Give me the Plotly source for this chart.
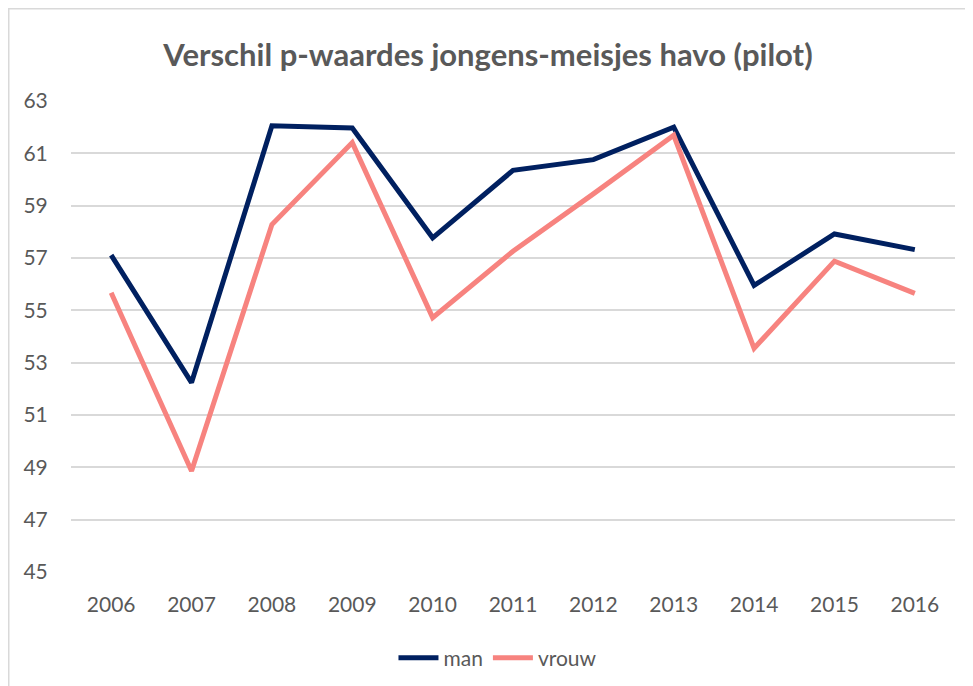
import plotly.graph_objects as go

years = ["2006", "2007", "2008", "2009", "2010", "2011", "2012", "2013", "2014", "2015", "2016"]
man = [57.11, 52.24, 62.05, 61.97, 57.77, 60.35, 60.76, 62.0, 55.95, 57.92, 57.32]
vrouw = [55.67, 48.86, 58.28, 61.41, 54.72, 57.26, 59.45, 61.69, 53.55, 56.88, 55.65]
y_ticks = [45, 47, 49, 51, 53, 55, 57, 59, 61, 63]

FONT = "Lato, 'Open Sans', sans-serif"
GREY = "#595959"

fig = go.Figure()
fig.add_trace(go.Scatter(x=years, y=man, mode="lines", name="man",
                         line=dict(color="#002060", width=5)))
fig.add_trace(go.Scatter(x=years, y=vrouw, mode="lines", name="vrouw",
                         line=dict(color="#F7837F", width=5)))

fig.update_layout(
    width=973, height=686,
    paper_bgcolor="white", plot_bgcolor="white",
    margin=dict(l=63, r=26, t=93, b=122, autoexpand=False),
    font=dict(family=FONT, color=GREY, size=21),
    title=dict(text="<b>Verschil p-waardes jongens-meisjes havo (pilot)</b>",
               x=480 / 973, xanchor="center", y=1 - 47 / 686, yanchor="middle",
               font=dict(family=FONT, size=31, color=GREY)),
    showlegend=True,
    legend=dict(orientation="h", x=0.483, xanchor="center", y=(564 - 650) / 471,
                yanchor="middle", font=dict(family=FONT, size=21, color=GREY),
                itemwidth=40),
    xaxis=dict(type="category", range=[-0.5, 10.5], showgrid=False, zeroline=False,
               showline=False, automargin=False,
               ticks="outside", ticklen=14, tickcolor="rgba(0,0,0,0)",
               tickfont=dict(family=FONT, size=21, color=GREY)),
    yaxis=dict(range=[45, 63], tickvals=y_ticks, showgrid=True, automargin=False,
               gridcolor="#D9D9D9", gridwidth=1.5, zeroline=False, showline=False,
               ticks="outside", ticklen=18, tickcolor="rgba(0,0,0,0)",
               tickfont=dict(family=FONT, size=21, color=GREY)),
    shapes=[dict(type="rect", xref="paper", yref="paper",
                 x0=(0 - 63) / 884, x1=1.5, y0=-1.0, y1=564 / 471,
                 line=dict(color="#D9D9D9", width=3), fillcolor="rgba(0,0,0,0)",
                 layer="below")],
)

fig.write_html("out.html")
